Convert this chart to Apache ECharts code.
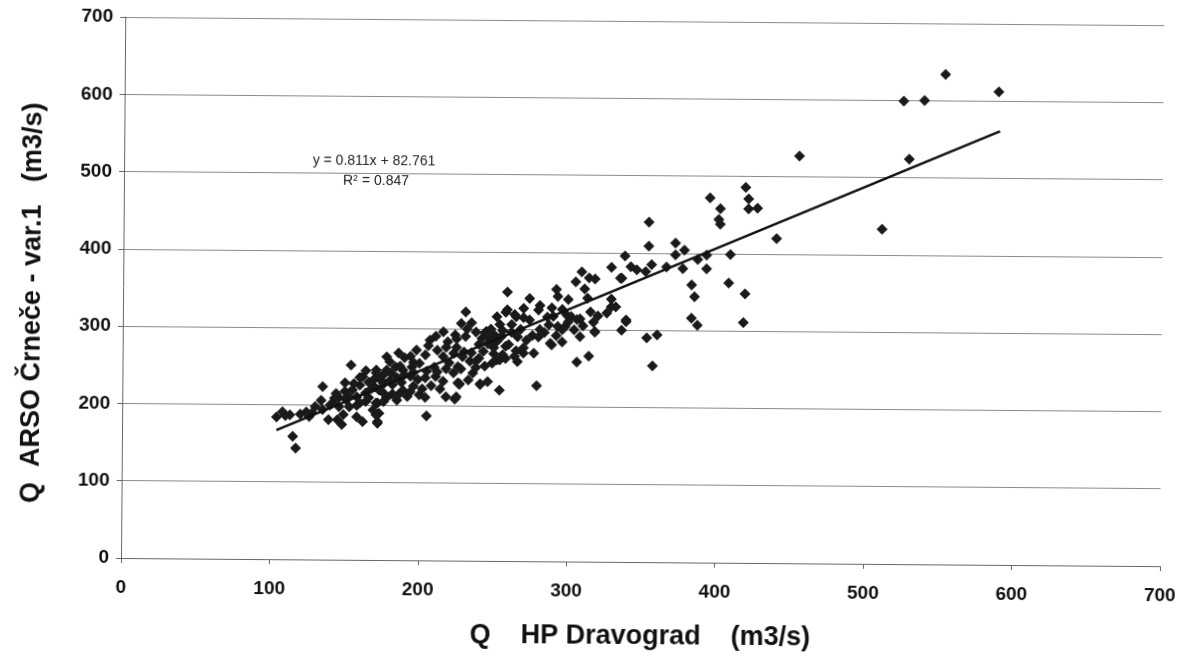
<!DOCTYPE html>
<html>
<head>
<meta charset="utf-8">
<script src="https://cdn.jsdelivr.net/npm/echarts@6/dist/echarts.min.js"></script>
<style>
html,body{margin:0;padding:0;background:#fff;overflow:hidden;}
#c{width:1188px;height:658px;transform:rotate(0.45deg);transform-origin:121px 558px;}
</style>
</head>
<body>
<div id="c"></div>
<script>
// Q HP Dravograd (m3/s)
const xVals = [
553,589,525,539,455,529,511,440,
419,395,421,421,427,402,401,402,354,354,372,372,378,338,393,409,387,342,346,352,356,336,366,377,393,383,408,385,419,383,387,418,339,336,353,360,
329,309,305,314,318,335,311,292,293,313,300,329,329,259,274,281,280,289,315,231,252,259,265,270,306,317,228,235,244,287,293,298,308,318,277,288,306,314,357,279,254,241,227,225,264,252,244,234,236,226,258,270,296,
290,296,299,264,270,302,308,318,339,289,
258,245,250,216,211,207,219,225,231,178,186,180,187,194,198,204,216,223,229,235,238,243,249,254,256,171,174,181,189,194,199,211,216,223,226,233,241,246,182,189,196,185,192,200,173,172,173,172,204,218,224,227,205,
154,164,135,108,104,113,124,130,126,135,139,143,146,145,148,149,153,158,162,169,172,171,115,117,144,150,155,158,164,170,176,142,151,160,164,171,176,162,169,174,171,
255,260,265,250,262,272,276,281,248,225,230,240,246,250,258,266,270,238,228,220,210,205,200,195,190,185,180,176,168,160,152,158,166,182,188,196,204,212,218,214,208,202,194,186,178,
232,238,242,248,254,224,218,212,206,246,252,262,268,274,284,292,300,266,256,240,196,190,184,178,176,166,160,156,150,146,140,134,128,120,110,280,286,296,304,310,320,326,332
];
// Q ARSO Črneče - var.1 (m3/s)
const yVals = [
634,612,599,600,527,524,433,420,
486,472,471,458,459,458,444,438,440,409,413,398,404,396,398,399,392,382,378,376,385,367,382,380,380,359,362,344,348,316,307,311,311,300,290,294,
381,375,362,367,366,367,353,352,343,341,339,340,330,348,340,331,325,328,323,322,316,325,316,327,313,310,307,308,295,306,304,304,291,297,269,282,258,266,254,227,221,228,229,212,265,260,252,258,243,251,278,269,300,
317,326,319,319,315,317,314,298,313,280,
322,297,293,296,290,285,283,287,290,263,268,257,251,264,272,266,264,268,264,269,258,271,256,260,267,246,233,242,246,238,234,238,232,243,230,234,229,232,227,220,225,207,212,214,220,203,190,177,211,212,209,228,187,
252,245,224,191,184,187,191,198,185,194,181,209,198,181,175,188,198,185,179,194,179,188,159,144,215,229,220,211,216,224,216,203,207,203,205,203,205,237,233,237,242,
290,280,272,276,296,286,292,300,283,276,270,262,281,268,262,258,276,250,248,256,250,245,255,250,240,236,232,228,222,226,212,200,210,215,230,243,236,244,248,222,226,222,218,214,210,
300,296,288,300,306,292,276,272,278,290,284,306,300,312,296,292,310,290,298,280,256,262,250,246,240,230,236,228,218,210,200,206,190,188,186,290,316,284,300,305,318,322,330
];
// trend line endpoints as drawn
const trendX = [104, 590];
const trendY = [167, 561];
const tickVals = [0, 100, 200, 300, 400, 500, 600, 700];

const pts = xVals.map((x, i) => [x, yVals[i]]);
const trend = trendX.map((x, i) => [x, trendY[i]]);

const FONT = '"Liberation Sans", Arial, sans-serif';
const chart = echarts.init(document.getElementById('c'), null, {renderer: 'canvas'});
chart.setOption({
  animation: false,
  backgroundColor: '#ffffff',
  grid: {left: 121, right: 28, top: 17, bottom: 100, containLabel: false},
  xAxis: {
    type: 'value', min: tickVals[0], max: tickVals[tickVals.length - 1], interval: 100,
    name: 'Q    HP Dravograd    (m3/s)', nameLocation: 'middle', nameGap: 61,
    nameTextStyle: {fontFamily: FONT, fontWeight: 'bold', fontSize: 27, color: '#111'},
    axisLine: {show: true, lineStyle: {color: '#666', width: 1}},
    axisTick: {show: true, length: 5, lineStyle: {color: '#666'}},
    axisLabel: {fontFamily: FONT, fontWeight: 'bold', fontSize: 19, color: '#111', margin: 20},
    splitLine: {show: false}
  },
  yAxis: {
    type: 'value', min: tickVals[0], max: tickVals[tickVals.length - 1], interval: 100,
    name: 'Q  ARSO Črneče - var.1   (m3/s)', nameLocation: 'middle', nameGap: 77,
    nameTextStyle: {fontFamily: FONT, fontWeight: 'bold', fontSize: 27, color: '#111', padding: [0, 32, 0, 0]},
    axisLine: {show: true, lineStyle: {color: '#666', width: 1}},
    axisTick: {show: true, length: 5, lineStyle: {color: '#666'}},
    axisLabel: {fontFamily: FONT, fontWeight: 'bold', fontSize: 19, color: '#111', margin: 12},
    splitLine: {show: true, lineStyle: {color: '#8a8a8a', width: 1}}
  },
  series: [
    {
      type: 'scatter', data: pts, symbol: 'diamond', symbolSize: 11,
      itemStyle: {color: '#1a1a1a', opacity: 1}, z: 2
    },
    {
      type: 'line', data: trend, symbol: 'none',
      lineStyle: {color: '#111', width: 2.5}, z: 3
    }
  ],
  graphic: [
    {type: 'text', x: 371, y: 152, style: {text: 'y = 0.811x + 82.761', align: 'center', fontFamily: FONT, fontSize: 14, fill: '#222'}},
    {type: 'text', x: 373, y: 172, style: {
      text: 'R{s|2} = 0.847', align: 'center', fontFamily: FONT, fontSize: 14, fill: '#222',
      rich: {s: {fontSize: 9, verticalAlign: 'top', padding: [0, 0, 6, 0], fontFamily: FONT, fill: '#222'}}
    }}
  ]
});
</script>
</body>
</html>
